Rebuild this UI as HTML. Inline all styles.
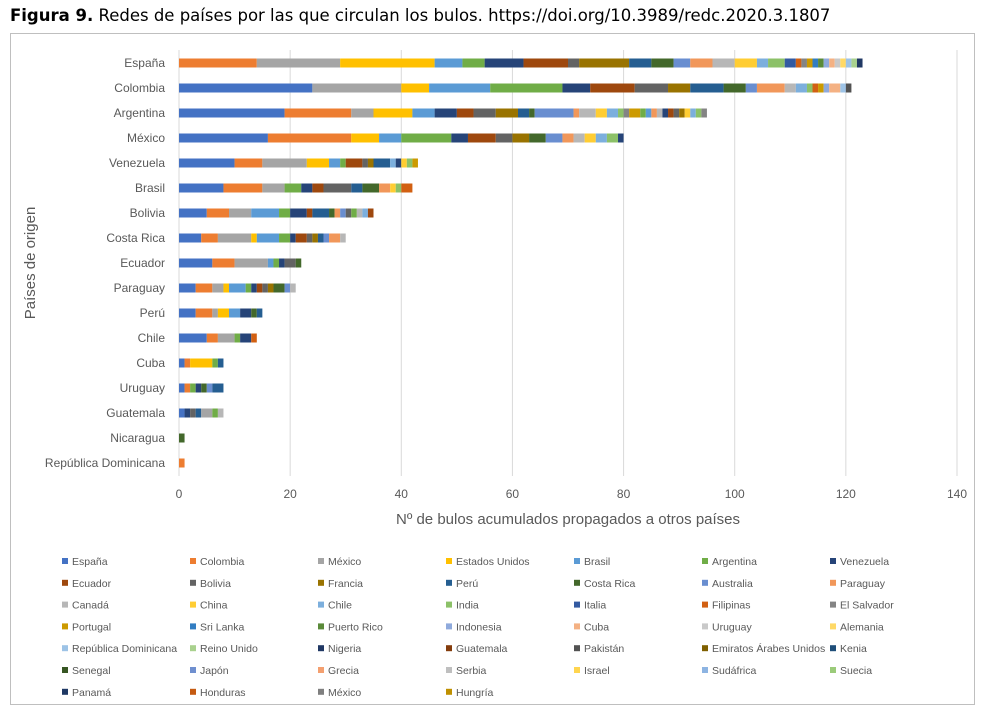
<!DOCTYPE html>
<html><head><meta charset="utf-8">
<style>
body{margin:0;background:#fff;width:984px;height:713px;overflow:hidden;font-family:"Liberation Sans",sans-serif}
#title{position:absolute;left:10px;top:6px;font-family:"DejaVu Sans",sans-serif;font-size:16.5px;color:#000;white-space:nowrap}
#frame{position:absolute;left:10px;top:33px;width:965px;height:672px;border:1px solid #bfbfbf;box-sizing:border-box}
svg{position:absolute;left:0;top:0}
</style></head><body>
<div id="title"><b>Figura 9.</b> Redes de países por las que circulan los bulos. https://doi.org/10.3989/redc.2020.3.1807</div>
<div id="frame"></div>
<svg id="chart" width="984" height="713"></svg>
<script>
const categories=["España","Colombia","Argentina","México","Venezuela","Brasil","Bolivia","Costa Rica","Ecuador","Paraguay","Perú","Chile","Cuba","Uruguay","Guatemala","Nicaragua","República Dominicana"];
const segValues=[
[14,15,17,5,4,7,8,2,9,4,4,3,4,4,4,2,3,2,1,1,1,1,1,1,1,1,1,1,1,1],
[24,16,5,11,13,5,8,6,4,6,4,2,5,2,2,1,1,1,1,2,1,1],
[19,12,4,7,4,4,3,4,4,2,1,7,1,3,2,2,1,1,2,1,1,1,1,1,1,1,1,1,1,1,1],
[16,15,5,4,9,3,5,3,3,3,3,2,2,2,2,2,1],
[10,5,8,4,2,1,3,1,1,3,1,1,1,1,1],
[8,7,4,3,2,2,5,2,3,2,1,1,2],
[5,4,4,5,2,3,1,3,1,1,1,1,1,1,1,1],
[4,3,6,1,4,2,1,2,1,1,1,1,2,1],
[6,4,6,1,1,1,2,1],
[3,3,2,1,3,1,1,1,1,1,2,1,1],
[3,3,1,2,2,2,1,1],
[5,2,3,1,2,1],
[1,1,4,1,1],
[1,1,1,1,1,1,2],
[1,1,1,1,2,1,1],
[1],
[1]];
const segSeries=[
[1,2,3,4,5,6,7,8,9,10,11,12,13,14,15,16,17,18,19,20,21,22,23,24,25,26,27,28,29,30],
[0,2,3,4,5,6,7,8,9,10,11,12,13,14,16,17,19,21,24,25,28,32],
[0,1,2,3,4,6,7,8,9,10,11,12,13,14,15,16,17,20,21,5,4,13,14,6,7,8,9,15,16,17,20],
[0,1,3,4,5,6,7,8,9,11,12,13,14,15,16,17,6],
[0,1,2,3,4,5,7,8,9,10,16,6,15,17,21],
[0,1,2,5,6,7,8,10,11,13,15,17,19],
[0,1,2,4,5,6,7,10,11,13,12,8,5,14,16,7],
[0,1,2,3,4,5,6,7,8,9,10,12,13,14],
[0,1,2,4,5,6,8,11],
[0,1,2,3,4,5,6,7,8,9,11,12,14],
[0,1,2,3,4,6,11,10],
[0,1,2,5,6,19],
[0,1,3,5,10],
[0,1,5,6,11,12,10],
[0,6,8,10,2,5,14],
[11],
[1]];
const legendNames=["España","Colombia","México","Estados Unidos","Brasil","Argentina","Venezuela","Ecuador","Bolivia","Francia","Perú","Costa Rica","Australia","Paraguay","Canadá","China","Chile","India","Italia","Filipinas","El Salvador","Portugal","Sri Lanka","Puerto Rico","Indonesia","Cuba","Uruguay","Alemania","República Dominicana","Reino Unido","Nigeria","Guatemala","Pakistán","Emiratos Árabes Unidos","Kenia","Senegal","Japón","Grecia","Serbia","Israel","Sudáfrica","Suecia","Panamá","Honduras","México","Hungría"];
const palette=["#4472C4","#ED7D31","#A5A5A5","#FFC000","#5B9BD5","#70AD47","#264478","#9E480E","#636363","#997300","#255E91","#43682B","#698ED0","#F1975A","#B7B7B7","#FFCD33","#7CAFDD","#8CC168","#335AA1","#D26012","#848484","#CC9A00","#327DC2","#5A8A39","#8FAADC","#F4B183","#C9C9C9","#FFD966","#9DC3E6","#A9D18E","#203864","#843C0C","#525252","#7F6000","#1F4E79","#375623","#6F8FCF","#F4A070","#BFBFBF","#FFD54F","#8DB4E2","#9BCB7A","#1F3864","#C55A11","#7F7F7F","#BF9000"];
const xTicks=[0,20,40,60,80,100,120,140];

const NS="http://www.w3.org/2000/svg";
const svg=document.getElementById("chart");
const X0=179,X1=957,XMAX=140,Y0=63,STEP=25,BH=9,GT=50,GB=476;
function xs(v){return X0+v*(X1-X0)/XMAX;}
function yc(i){return Y0+i*STEP;}
function mk(tag,attrs,txt){const e=document.createElementNS(NS,tag);for(const k in attrs)e.setAttribute(k,attrs[k]);if(txt!==undefined)e.textContent=txt;svg.appendChild(e);return e;}

xTicks.forEach(t=>{
 const g=mk("line",{x1:xs(t),x2:xs(t),y1:GT,y2:GB,stroke:"#d9d9d9","stroke-width":1});
 
 
 const l=mk("text",{x:xs(t),y:498,"text-anchor":"middle","font-size":12,fill:"#595959"},String(t));
 
 
});
categories.forEach((c,i)=>{
 const l=mk("text",{x:165,y:yc(i)+4,"text-anchor":"end","font-size":12,fill:"#595959"},c);
 
 
 let acc=0;
 segValues[i].forEach((v,j)=>{
  const r=mk("rect",{x:xs(acc),y:yc(i)-BH/2,width:xs(acc+v)-xs(acc),height:BH,fill:palette[segSeries[i][j]]});
  
  
  acc+=v;
 });
});
const xt=mk("text",{x:568,y:524,"text-anchor":"middle","font-size":15,fill:"#595959"},"Nº de bulos acumulados propagados a otros países");


const yt=mk("text",{x:0,y:0,"text-anchor":"middle","font-size":15,fill:"#595959",transform:"translate(35,263) rotate(-90)"},"Países de origen");


legendNames.forEach((n,k)=>{
 const col=k%7,row=Math.floor(k/7);
 const lx=62+col*128,ly=561+row*21.8;
 const s=mk("rect",{x:lx,y:ly-3,width:6,height:6,fill:palette[k]});
 
 
 const t=mk("text",{x:lx+10,y:ly+4,"font-size":10.5,fill:"#595959"},n);
 
 
});
</script>
</body></html>
